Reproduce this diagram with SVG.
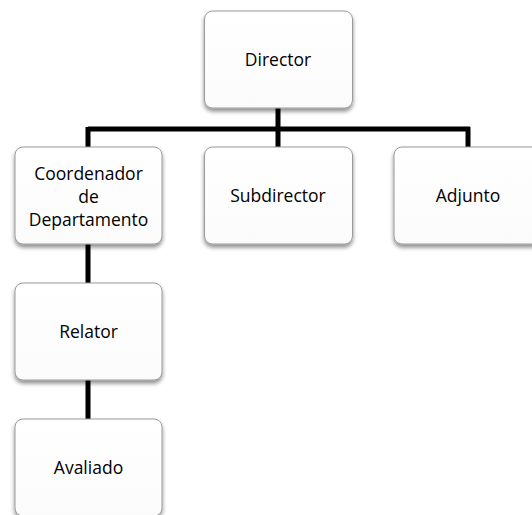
<svg xmlns="http://www.w3.org/2000/svg" width="532" height="515" viewBox="0 0 532 515">
<style>
.box{fill:url(#g);stroke:#9a9a9a;stroke-width:1;filter:url(#sh)}
.lbl{font-family:"Open Sans","Noto Sans",sans-serif;font-size:17.5px;fill:#000;text-anchor:middle}
.con{stroke:#000;stroke-width:5;fill:none}
</style>
<defs>
<linearGradient id="g" x1="0" y1="0" x2="0" y2="1">
<stop offset="0" stop-color="#ffffff"/>
<stop offset="1" stop-color="#fbfbfb"/>
</linearGradient>
<filter id="sh" x="-10%" y="-10%" width="120%" height="130%">
<feGaussianBlur in="SourceAlpha" stdDeviation="2"/>
<feOffset dx="0" dy="3" result="b"/>
<feComponentTransfer><feFuncA type="linear" slope="0.45"/></feComponentTransfer>
<feMerge><feMergeNode/><feMergeNode in="SourceGraphic"/></feMerge>
</filter>
</defs>
<g id="connectors">
<path class="con" d="M278 108V129M88 129H470M88 127V147M278 129V147M468 127V147"/>
<path class="con" d="M88 244V283M88 380V419"/>
</g>
<g id="director"><rect class="box" x="204.5" y="11" width="148" height="97" rx="8"/><text class="lbl" x="278" y="66">Director</text></g>
<g id="coordenador"><rect class="box" x="15" y="147" width="147" height="97" rx="8"/><text class="lbl" x="88.5" y="180">Coordenador</text><text class="lbl" x="88.5" y="203">de</text><text class="lbl" x="88.5" y="226">Departamento</text></g>
<g id="subdirector"><rect class="box" x="204.5" y="147" width="148" height="97" rx="8"/><text class="lbl" x="278" y="202">Subdirector</text></g>
<g id="adjunto"><rect class="box" x="394" y="147" width="148" height="97" rx="8"/><text class="lbl" x="468" y="202">Adjunto</text></g>
<g id="relator"><rect class="box" x="15" y="283" width="147" height="97" rx="8"/><text class="lbl" x="88.5" y="338">Relator</text></g>
<g id="avaliado"><rect class="box" x="15" y="419" width="147" height="97" rx="8"/><text class="lbl" x="88.5" y="474">Avaliado</text></g>
</svg>
